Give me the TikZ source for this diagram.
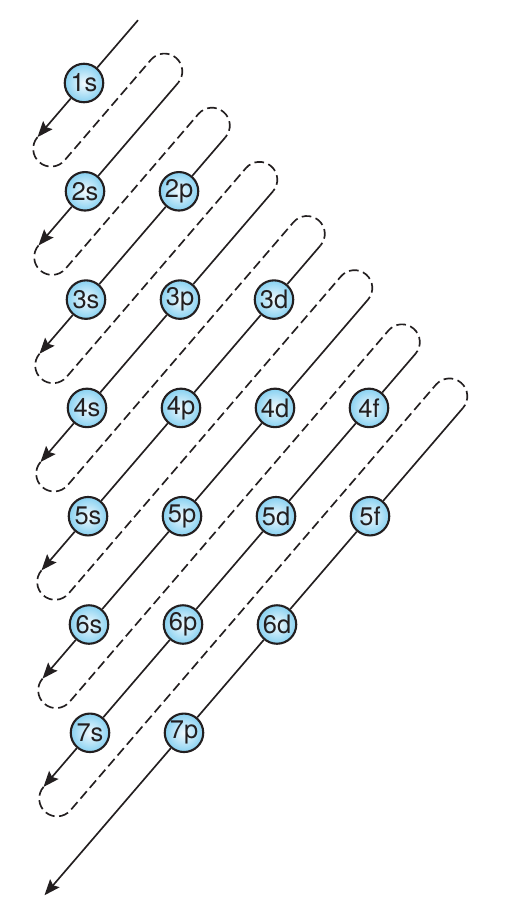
\documentclass[tikz,border=0pt]{standalone}
\usepackage{fontspec}
\setmainfont{TeX Gyre Heros}
\usetikzlibrary{arrows.meta,calc}

\definecolor{inkline}{HTML}{231F20}
\definecolor{orbcore}{HTML}{F2FAFE}
\definecolor{orbedge}{HTML}{88D1F1}
\newcommand{\halfgap}{0.3566cm}

\begin{document}
\begin{tikzpicture}[x=0.02cm, y=0.02cm,
    orbital/.style={circle, draw=inkline, line width=1.2pt, minimum size=0.77cm, inner sep=0pt,
      shading=radial, inner color=orbcore, outer color=orbedge, text=inkline,
      font=\fontsize{14.5}{16}\selectfont},
    fillline/.style={draw=inkline, line width=0.95pt, -{Stealth[length=9pt,width=7pt,inset=1.5pt]}},
    loopline/.style={draw=inkline, line width=0.95pt, dash pattern=on 5.5pt off 2.6pt}]

  \useasboundingbox (0,0) rectangle (504,-906);

  % Orbitals (l = column, n = shell)
  \foreach \l/\n/\name in {0/1/1s, 0/2/2s, 1/2/2p, 0/3/3s, 1/3/3p, 2/3/3d,
      0/4/4s, 1/4/4p, 2/4/4d, 3/4/4f, 0/5/5s, 1/5/5p, 2/5/5d, 3/5/5f,
      0/6/6s, 1/6/6p, 2/6/6d, 0/7/7s, 1/7/7p}
    \node[orbital] (\name) at ({84+94*\l+\n-1}, {-83-108.3*(\n-1)}) {\name};

  % Start and end of each diagonal
  \coordinate (top1) at (138,-20.2);
  \foreach \m in {2,...,8}
    \coordinate (top\m) at ({83+47.5*\m}, {-83-108.3*(\m/2-1)});
  \foreach \m in {1,...,8}
    \coordinate (end\m) at ({36.5+\m}, {-83-108.3*(\m-0.5)});

  % Filling order diagonals
  \draw[fillline] (top1) -- (1s) -- (end1);
  \draw[fillline] (top2) -- (2s) -- (end2);
  \draw[fillline] (top3) -- (2p) -- (3s) -- (end3);
  \draw[fillline] (top4) -- (3p) -- (4s) -- (end4);
  \draw[fillline] (top5) -- (3d) -- (4p) -- (5s) -- (end5);
  \draw[fillline] (top6) -- (4d) -- (5p) -- (6s) -- (end6);
  \draw[fillline] (top7) -- (4f) -- (5d) -- (6p) -- (7s) -- (end7);
  \draw[fillline] (top8) -- (5f) -- (6d) -- (7p) -- (end8);

  % Dashed returns to the next diagonal
  \foreach \m [evaluate=\m as \k using int(\m+1)] in {1,...,7}
    \draw[loopline] (end\m) arc[start angle=139.35, end angle=319.35, radius=\halfgap]
      -- ($(top\k)+(139.35:2*\halfgap)$)
      arc[start angle=139.35, end angle=-40.65, radius=\halfgap];

\end{tikzpicture}
\end{document}
